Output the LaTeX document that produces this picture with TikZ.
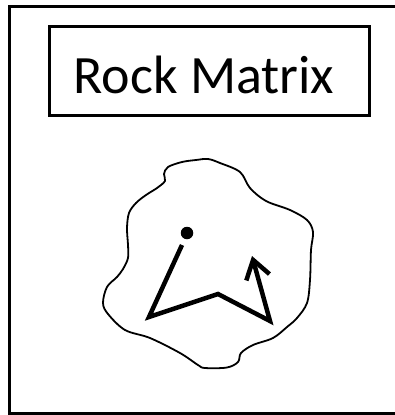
\documentclass[tikz,border=0pt]{standalone}
\usepackage{fontspec}
\setmainfont{Carlito}
\usetikzlibrary{arrows.meta}
\begin{document}
\begin{tikzpicture}[x=1pt,y=-1pt,
  frameline/.style={line width=3pt,line cap=butt},
  labelbox/.style={draw,line width=3pt,minimum width=320pt,minimum height=88.5pt,inner sep=0pt},
  labeltext/.style={anchor=base,inner sep=0pt,font=\fontsize{54}{60}\selectfont},
  blobline/.style={line width=1.8pt,line join=round},
  pathline/.style={line width=4.5pt,line join=miter},
  dotnode/.style={circle,fill=black,inner sep=0pt,minimum size=12.5pt}]
\useasboundingbox[fill=white] (0,0) rectangle (395,415);
% outer frame (open at right)
\draw[frameline] (395,6.5) -- (9.5,6.5) -- (9.5,413) -- (395,413);
% title box
\node[labelbox] (box) at (209.5,70.75) {};
\node[labeltext] (label) at (204,93.5) {Rock Matrix};
% pore outline
\draw[blobline] plot[smooth cycle,tension=0.55] coordinates {
 (311,250) (310,280) (307,303) (297,318) (287,327) (273,338) (253,345)
 (241,353) (238,362) (227,367.5) (205,368) (198,365) (180,353) (150,338)
 (125,330) (108,314) (103,303) (107,287) (117,277) (123,269) (128,258)
 (128,245) (127,228) (129,213) (136,203) (146,195) (157,188) (165,181)
 (164,174) (168,167) (182,162) (196,160) (208,159) (220,163) (240,172)
 (250,188) (266,201) (290,210) (307,220) (313,232)};
% particle and its path
\node[dotnode] (dot) at (187,233) {};
\coordinate (p0) at (182,245);
\coordinate (p1) at (149,317);
\coordinate (p2) at (218,294);
\coordinate (p3) at (270,321);
\coordinate (p4) at (252,256);
\draw[pathline,-{Straight Barb[length=18pt,width=24pt]}] (p0) -- (p1) -- (p2) -- (p3) -- (p4);
\end{tikzpicture}
\end{document}
